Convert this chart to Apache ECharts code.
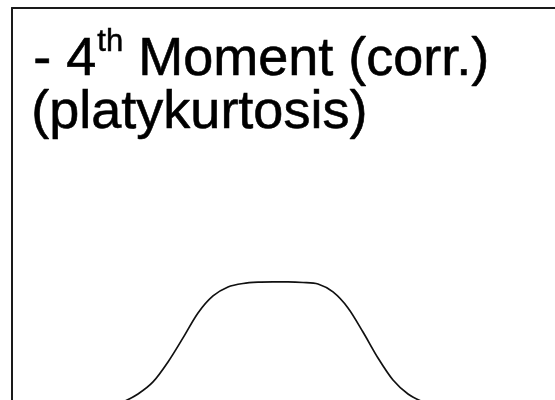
<!DOCTYPE html>
<html>
<head>
<meta charset="utf-8">
<script src="https://cdn.jsdelivr.net/npm/echarts@6/dist/echarts.min.js"></script>
<style>
  html, body { margin: 0; padding: 0; background: #fff; }
  #main { width: 555px; height: 400px; }
</style>
</head>
<body>
<div id="main"></div>
<script>
// curve: x in units from the centre, y relative to the plateau height
var xValues = [-6.5, -6, -5.5, -5, -4.5, -4, -3.5, -3, -2.5, -2, -1.5, -1, -0.5, 0, 0.5, 1, 1.5, 2, 2.5, 3, 3.5, 4, 4.5, 5, 5.5, 6, 6.5];
var yValues = [0, 0.008, 0.023, 0.063, 0.125, 0.219, 0.375, 0.563, 0.758, 0.891, 0.961, 0.988, 0.998, 1.0, 1.0, 0.996, 0.984, 0.922, 0.797, 0.609, 0.406, 0.234, 0.125, 0.063, 0.023, 0.008, 0];
var titleLine1 = ['- 4', 'th', ' Moment (corr.)'];
var titleLine2 = '(platykurtosis)';

var chart = echarts.init(document.getElementById('main'));
var font = '"Liberation Sans", Arial, Helvetica, sans-serif';

// measure the pieces of the first line so the superscript can sit on its own
var ctx = document.createElement('canvas').getContext('2d');
ctx.font = '54px ' + font;
var w1 = ctx.measureText(titleLine1[0]).width;
ctx.font = '31px ' + font;
var w2 = ctx.measureText(titleLine1[1]).width;

var bigText = { fontFamily: font, fontSize: 54, lineHeight: 54, fill: '#000', stroke: '#000', lineWidth: 0.6 };

var option = {
  backgroundColor: '#fff',
  animation: false,
  grid: { left: 12, top: 8, right: 0, bottom: 0 },
  xAxis: {
    type: 'value',
    position: 'top',
    min: -8.7,
    max: 9.4,
    axisLine: { show: true, onZero: false, lineStyle: { color: '#1a1a1a', width: 2 } },
    axisTick: { show: false },
    axisLabel: { show: false },
    splitLine: { show: false }
  },
  yAxis: {
    type: 'value',
    min: 0.078,
    max: 3.14,
    axisLine: { show: true, onZero: false, lineStyle: { color: '#1a1a1a', width: 2 } },
    axisTick: { show: false },
    axisLabel: { show: false },
    splitLine: { show: false }
  },
  series: [{
    type: 'line',
    data: xValues.map(function (x, i) { return [x, yValues[i]]; }),
    smooth: 0.3,
    showSymbol: false,
    lineStyle: { color: '#111', width: 1.7 }
  }],
  graphic: [
    {
      type: 'text',
      left: 33,
      top: 33,
      style: Object.assign({ text: titleLine1[0] }, bigText)
    },
    {
      type: 'text',
      left: 33 + w1 + 1,
      top: 25,
      style: { text: titleLine1[1], fontFamily: font, fontSize: 31, lineHeight: 34, fill: '#000', stroke: '#000', lineWidth: 0.5 }
    },
    {
      type: 'text',
      left: 33 + w1 + w2 + 1,
      top: 33,
      style: Object.assign({ text: titleLine1[2] }, bigText)
    },
    {
      type: 'text',
      left: 31,
      top: 86,
      style: Object.assign({ text: titleLine2 }, bigText)
    }
  ]
};

chart.setOption(option);
</script>
</body>
</html>
